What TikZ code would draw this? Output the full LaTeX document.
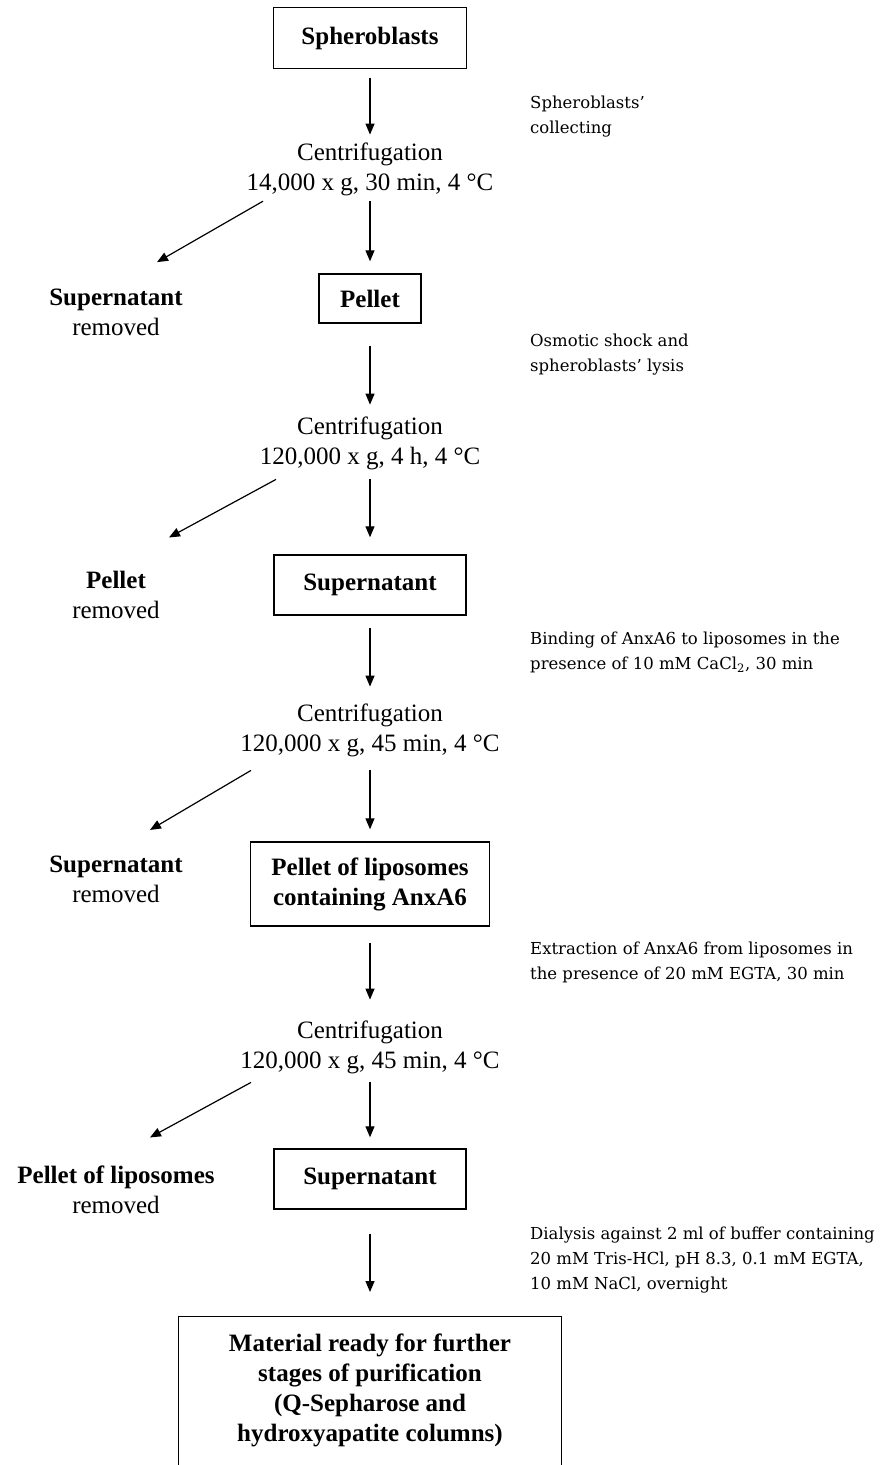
\documentclass[tikz,border=0pt]{standalone}
\usepackage{fontspec}
\setmainfont{Liberation Serif}
\newfontfamily\notefont{DejaVu Serif}
\usetikzlibrary{arrows.meta,calc}
\def\removed#1#2#3{
	\node[waste] (#1) at (116,#2) {\textbf{#3}\\removed};}

\begin{document}
\begin{tikzpicture}[x=1pt,y=-1pt,font=\fontsize{25}{30}\selectfont,
	stage/.style={draw,line width=1.4pt,font=\fontsize{25}{30}\selectfont\bfseries,align=center,inner sep=0pt},
	spin/.style={align=center,inner sep=0pt},
	waste/.style={align=center,inner sep=0pt},
	note/.style={anchor=west,align=left,inner sep=0pt,font=\notefont\fontsize{16.5}{25}\selectfont},
	arr/.style={-{Triangle[length=11pt,width=9pt]},line width=1.2pt}]
	\useasboundingbox (0,0) rectangle (882,1465);
	%主干上的方框
	\node[stage,minimum width=193,minimum height=61] (sph) at (370,38) {Spheroblasts};
	\node[stage,minimum width=102,minimum height=49] (pel) at (370,298.5) {Pellet};
	\node[stage,minimum width=192,minimum height=60] (sup1) at (370,585) {Supernatant};
	\node[stage,minimum width=239,minimum height=84] (lip) at (370,884) {Pellet of liposomes\\containing AnxA6};
	\node[stage,minimum width=192,minimum height=60] (sup2) at (370,1179) {Supernatant};
	%最后一个方框的下边在图外
	\node[stage,minimum width=383,anchor=north,inner ysep=17.2pt,text depth=80pt] (fin) at (370,1316)
		{Material ready for further\\stages of purification\\(Q-Sepharose and\\hydroxyapatite columns)};
	
	%离心条件
	\node[spin] (c1) at (370,169.5) {Centrifugation\\14,000 x g, 30 min, 4 °C};
	\node[spin] (c2) at (370,443.5) {Centrifugation\\120,000 x g, 4 h, 4 °C};
	\node[spin] (c3) at (370,730.5) {Centrifugation\\120,000 x g, 45 min, 4 °C};
	\node[spin] (c4) at (370,1047.5) {Centrifugation\\120,000 x g, 45 min, 4 °C};
	
	%左侧被去除的部分
	\removed{w1}{312.75}{Supernatant}
	\removed{w2}{594.75}{Pellet}
	\removed{w3}{879.75}{Supernatant}
	\removed{w4}{1189.75}{Pellet of liposomes}
	
	%右侧的步骤说明
	\node[note] (n1) at (530,116.5) {Spheroblasts’\\collecting};
	\node[note] (n2) at (530,354.5) {Osmotic shock and\\spheroblasts’ lysis};
	\node[note] (n3) at (530,652.5) {Binding of AnxA6 to liposomes in the\\presence of 10 mM CaCl\textsubscript{2}, 30 min};
	\node[note] (n4) at (530,962.5) {Extraction of AnxA6 from liposomes in\\the presence of 20 mM EGTA, 30 min};
	\node[note] (n5) at (530,1260) {Dialysis against 2 ml of buffer containing\\20 mM Tris-HCl, pH 8.3, 0.1 mM EGTA,\\10 mM NaCl, overnight};
	
	%箭头
	\draw[arr,shorten <=8.5,shorten >=8.2] (sph) -- (c1);
	\draw[arr,shorten <=5.2,shorten >=12] (c1) -- (pel);
	\draw[arr] ($(c1.south)+(-107,5)$) -- ($(w1.north)+(41,-27)$);
	\draw[arr,shorten <=22,shorten >=12.2] (pel) -- (c2);
	\draw[arr,shorten <=9.2,shorten >=17] (c2) -- (sup1);
	\draw[arr] ($(c2.south)+(-94,9.2)$) -- ($(w2.north)+(53,-33.3)$);
	\draw[arr,shorten <=12,shorten >=17.2] (sup1) -- (c3);
	\draw[arr,shorten <=13.2,shorten >=12] (c3) -- (lip);
	\draw[arr] ($(c3.south)+(-119,13.2)$) -- ($(w3.north)+(34,-26.2)$);
	\draw[arr,shorten <=16,shorten >=21.2] (lip) -- (c4);
	\draw[arr,shorten <=8.2,shorten >=11] (c4) -- (sup2);
	\draw[arr] ($(c4.south)+(-119,8.2)$) -- ($(w4.north)+(34,-28.2)$);
	\draw[arr,shorten <=24,shorten >=24] (sup2) -- (fin);
\end{tikzpicture}
\end{document}
